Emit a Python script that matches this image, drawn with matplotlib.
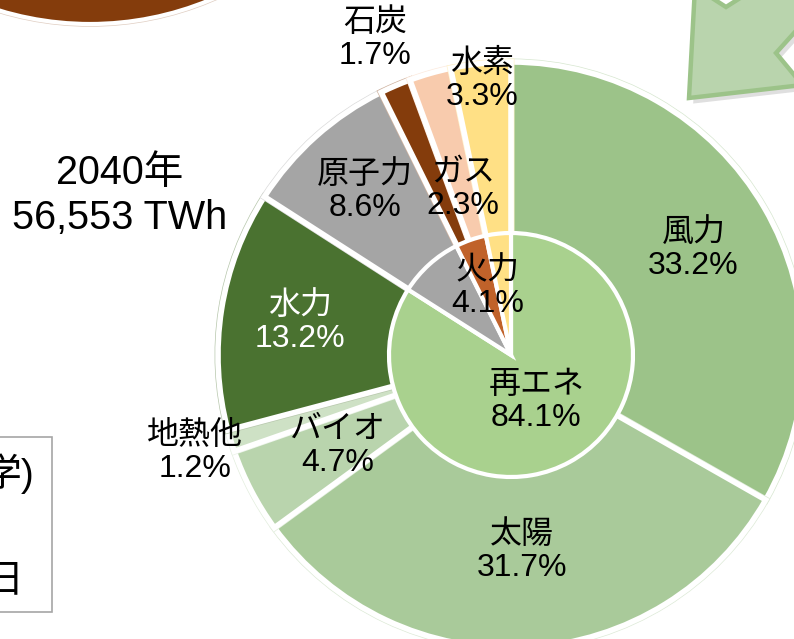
import numpy as np
import matplotlib
matplotlib.use("Agg")
import matplotlib.pyplot as plt
import matplotlib.patheffects as pe
from matplotlib.patches import Circle, Polygon, Rectangle
from matplotlib.colors import to_rgb

W, H = 794, 639

# outer ring: generation mix 2040 (%)
outer_labels = ["風力", "太陽", "バイオ", "地熱他", "水力", "原子力", "石炭", "ガス", "水素"]
outer_values = [33.2, 31.7, 4.7, 1.2, 13.2, 8.6, 1.7, 2.3, 3.3]

# inner pie: grouped (%)
inner_labels = ["再エネ", "原子力", "火力", "水素"]
inner_values = [84.1, 8.6, 4.1, 3.3]

title_year = "2040年"
title_total = "56,553 TWh"

# styles
outer_colors = ["#9CC389", "#A9CA9A", "#B9D4AD", "#CEE1C5", "#4A7230",
                "#A5A5A5", "#843C0C", "#F8CBAD", "#FFE085"]
outer_text = ["black"] * 4 + ["white"] + ["black"] * 4
# label distance as fraction of radius (None = no label)
outer_dist = [0.72, 0.67, 0.668, 1.127, 0.73, 0.75, 1.175, 0.59, 0.943]

inner_colors = ["#A9D18E", "#A5A5A5", "#C0622A", "#FFE085"]
inner_dist = [0.43, None, 0.59, None]

plt.rcParams['font.family'] = ['Liberation Sans', 'Noto Sans CJK JP']


def px(x, y):
    # picture pixel (y down) -> data coords (y up)
    return (x, H - y)


def blend(c, amount):
    r, g, b = to_rgb(c)
    return (r + (1 - r) * amount, g + (1 - g) * amount, b + (1 - b) * amount)


fig = plt.figure(figsize=(W / 100, H / 100), dpi=100)
ax = fig.add_axes([0, 0, 1, 1])

center = px(511, 355)
R_out, R_in = 293, 122
LW = 4

# brown circle of previous chart, cut off at top left
prev = Circle(px(90, -288), 312, facecolor="#843C0C", edgecolor="white", lw=3, zorder=1)
prev.set_path_effects([pe.Stroke(linewidth=4, foreground=blend("#843C0C", 0.75)), pe.Normal()])
ax.add_patch(prev)

wedges_out, _ = ax.pie(outer_values, radius=R_out, center=center, startangle=90,
                       counterclock=False, colors=outer_colors,
                       wedgeprops=dict(edgecolor="white", linewidth=LW))
for w, c in zip(wedges_out, outer_colors):
    w.set_path_effects([pe.Stroke(linewidth=LW + 1.0, foreground=blend(c, 0.6)), pe.Normal()])

wedges_in, _ = ax.pie(inner_values, radius=R_in, center=center, startangle=90,
                      counterclock=False, colors=inner_colors,
                      wedgeprops=dict(edgecolor="white", linewidth=3))


def put_labels(wedges, labels, values, radius, dists, tcolors):
    for w, lab, val, d, tc in zip(wedges, labels, values, dists, tcolors):
        if d is None:
            continue
        ang = np.deg2rad((w.theta1 + w.theta2) / 2)
        x = center[0] + d * radius * np.cos(ang)
        y = center[1] + d * radius * np.sin(ang)
        ax.text(x, y + 16, lab, ha="center", va="center", fontsize=23, color=tc, zorder=5)
        ax.text(x, y - 17, f"{val:.1f}%", ha="center", va="center", fontsize=23, color=tc, zorder=5)


put_labels(wedges_out, outer_labels, outer_values, R_out, outer_dist, outer_text)
put_labels(wedges_in, inner_labels, inner_values, R_in, inner_dist, ["black"] * 4)

# total
ax.text(*px(120, 173), title_year, ha="center", va="center", fontsize=28.5)
ax.text(*px(120, 218), title_total, ha="center", va="center", fontsize=28.5)

# source box at lower left (cut off)
ax.add_patch(Rectangle(px(-10, 612), 62, 175, facecolor="white", edgecolor="#A6A6A6", lw=1.2))
ax.text(*px(34, 474), "学)", ha="right", va="center", fontsize=28)
ax.text(*px(23, 582), "日", ha="right", va="center", fontsize=28)

# green arrow at top right
arrow_pts = [px(689, 98), px(695, -13), px(726, 7), px(759, -14), px(830, -7),
             px(776, 53), px(802.5, 85)]
arrow = Polygon(arrow_pts, closed=True, facecolor="#B9D4AD", edgecolor="#9CC389", lw=3.2)
arrow.set_path_effects([pe.SimplePatchShadow(offset=(3, -4), shadow_rgbFace="#808080", alpha=0.25),
                        pe.Normal()])
ax.add_patch(arrow)

ax.set_xlim(0, W)
ax.set_ylim(0, H)
ax.set_aspect("auto")
ax.axis("off")

fig.savefig("out.png", dpi=100)
